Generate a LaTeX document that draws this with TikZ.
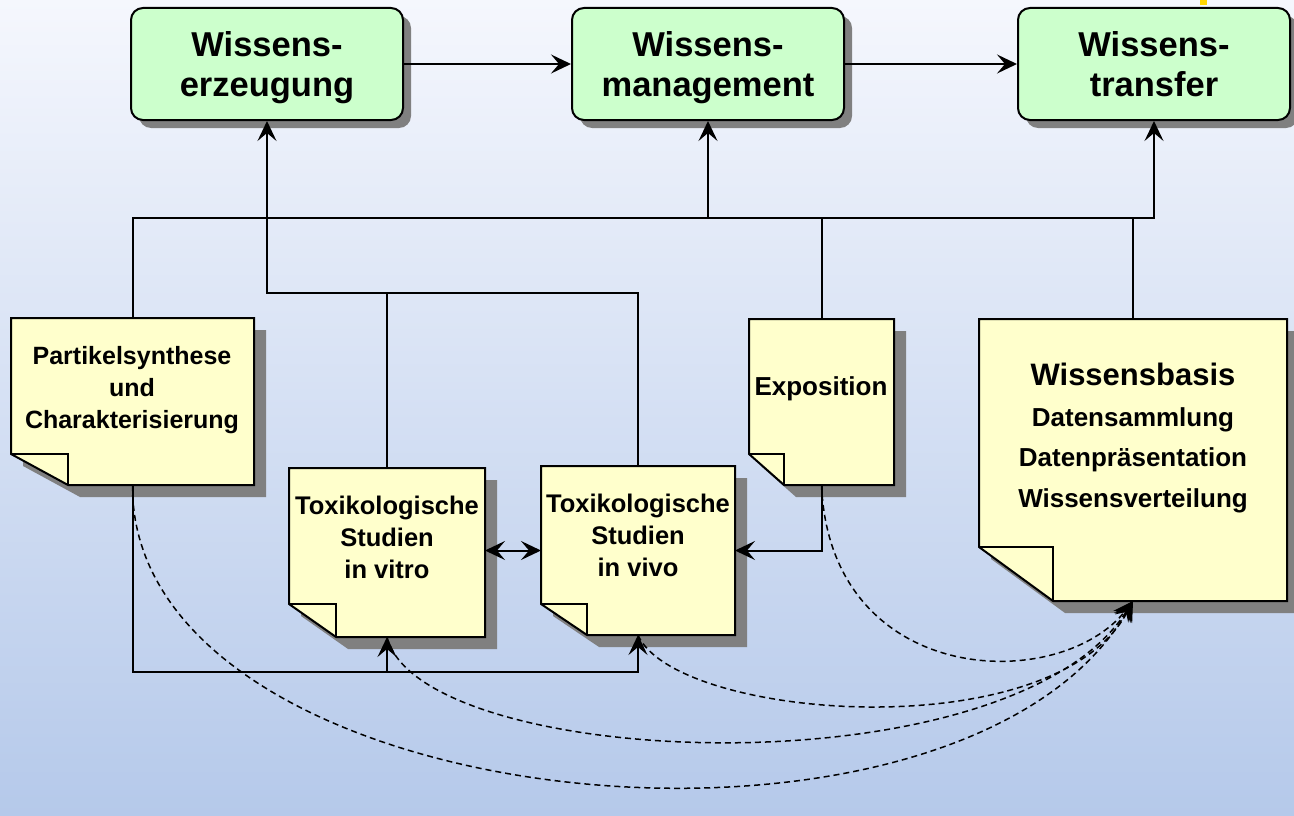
\documentclass[tikz,border=0pt]{standalone}
\usepackage{fontspec}
\setmainfont{Liberation Sans}
\usetikzlibrary{arrows.meta,calc,shadows}
\definecolor{bgtop}{RGB}{245,247,253}
\definecolor{bgbot}{RGB}{181,201,234}
\definecolor{greenf}{RGB}{204,255,204}
\definecolor{notef}{RGB}{255,255,204}
\definecolor{shadowc}{RGB}{128,128,128}
\definecolor{marky}{RGB}{255,214,0}
\newcommand\notedraw[3]{%
  \fill[shadowc] ($(#1.north west)+(12,12)$) -- ($(#1.north east)+(12,12)$) -- ($(#1.south east)+(12,12)$) -- ($(#1.south west)+(#2+12,12)$) -- ($(#1.south west)+(12,12-#3)$) -- cycle;
  \draw[fill=notef, line width=2pt] (#1.north west) -- (#1.north east) -- (#1.south east) -- ($(#1.south west)+(#2,0)$) -- ($(#1.south west)+(0,-#3)$) -- cycle;
  \draw[line width=2pt] ($(#1.south west)+(0,-#3)$) -- ($(#1.south west)+(#2,-#3)$) -- ($(#1.south west)+(#2,0)$);
}
\begin{document}
\begin{tikzpicture}[x=1pt,y=-1pt, line join=miter,
  gbox/.style={draw=black, line width=2pt, fill=greenf, rounded corners=12pt,
    minimum width=272pt, minimum height=112pt, align=center, inner sep=0pt, text depth=-8pt,
    font=\bfseries\fontsize{34.5}{40}\selectfont,
    drop shadow={shadow xshift=8pt, shadow yshift=-8pt, fill=shadowc, opacity=1}},
  notebox/.style={rectangle, inner sep=0pt, outer sep=0pt},
  notetext/.style={align=center, inner sep=0pt, font=\bfseries\fontsize{25.5}{32}\selectfont},
  conn/.style={line width=2pt},
  arr/.style={conn, -{Stealth[length=20pt,width=19pt,inset=8pt]}},
  darr/.style={conn, {Stealth[length=20pt,width=19pt,inset=8pt]}-{Stealth[length=20pt,width=19pt,inset=8pt]}},
  dashc/.style={line width=1.5pt, dash pattern=on 6pt off 4pt, -{Stealth[length=20pt,width=19pt,inset=8pt]}}
]
\useasboundingbox (0,0) rectangle (1294,816);
\shade[top color=bgtop, bottom color=bgbot] (0,0) rectangle (1294,816);
\fill[marky] (1200,0) rectangle (1207,5);

% top boxes
\node[gbox] (A) at (267,64) {Wissens-\\erzeugung};
\node[gbox] (B) at (708,64) {Wissens-\\management};
\node[gbox] (C) at (1154,64) {Wissens-\\transfer};

% notes
\node[notebox, minimum width=243pt, minimum height=167pt] (P) at (132.5,401.5) {};
\node[notebox, minimum width=196pt, minimum height=169pt] (Vitro) at (387,552.5) {};
\node[notebox, minimum width=194pt, minimum height=169pt] (Vivo) at (638,550.5) {};
\node[notebox, minimum width=145pt, minimum height=166pt] (Exp) at (821.5,402) {};
\node[notebox, minimum width=308pt, minimum height=282pt] (WB) at (1133,460) {};

\notedraw{P}{57}{31}
\notedraw{Vitro}{47}{33}
\notedraw{Vivo}{46}{31}
\notedraw{Exp}{35}{31}
\notedraw{WB}{74}{54}

\node[notetext, font=\bfseries\fontsize{25}{32}\selectfont] (Ptext) at (132,390) {Partikelsynthese\\und\\Charakterisierung};
\node[notetext] (Vitrotext) at (387,537) {Toxikologische\\Studien\\in vitro};
\node[notetext] (Vivotext) at (638,535) {Toxikologische\\Studien\\in vivo};
\node[notetext, font=\bfseries\fontsize{26}{32}\selectfont] (Exptext) at (821,389) {Exposition};
\node[notetext, font=\bfseries\fontsize{26}{40.5}\selectfont] (WBtext) at (1133,438)
  {{\fontsize{31}{40.5}\selectfont Wissensbasis}\\Datensammlung\\Datenpräsentation\\Wissensverteilung};

% bus coordinates
\coordinate (busR) at (C.south |- 0,218);
\coordinate (busM) at (Vivo.north |- 0,293);
\coordinate (busB) at (Vivo.south |- 0,672);

% solid connectors
\draw[arr] (A.east) -- (B.west);
\draw[arr] (B.east) -- (C.west);
\draw[arr] (P.north) |- (busR) -- (C.south);
\draw[arr] (B.south |- busR) -- (B.south);
\draw[conn] (Exp.north) -- (Exp.north |- busR);
\draw[conn] (WB.north) -- (WB.north |- busR);
\draw[arr] (Vivo.north) -- (busM) -| (A.south);
\draw[conn] (Vitro.north) -- (Vitro.north |- busM);
\draw[arr] (P.south) |- (busB) -- (Vivo.south);
\draw[arr] (Vitro.south |- busB) -- (Vitro.south);
\draw[darr] (Vitro.east |- Vivo.west) -- (Vivo.west);
\draw[arr] (Exp.south) |- (Vivo.east);

% dashed connectors
\draw[dashc] (P.south) .. controls (130,820) and (960,900) .. (WB.south);
\draw[dashc] (Vitro.south) .. controls (420,770) and (1010,795) .. (WB.south);
\draw[dashc] (Vivo.south) .. controls (675,720) and (1055,750) .. (WB.south);
\draw[dashc] (Exp.south) .. controls (830,688) and (1060,695) .. (WB.south);
\end{tikzpicture}
\end{document}
